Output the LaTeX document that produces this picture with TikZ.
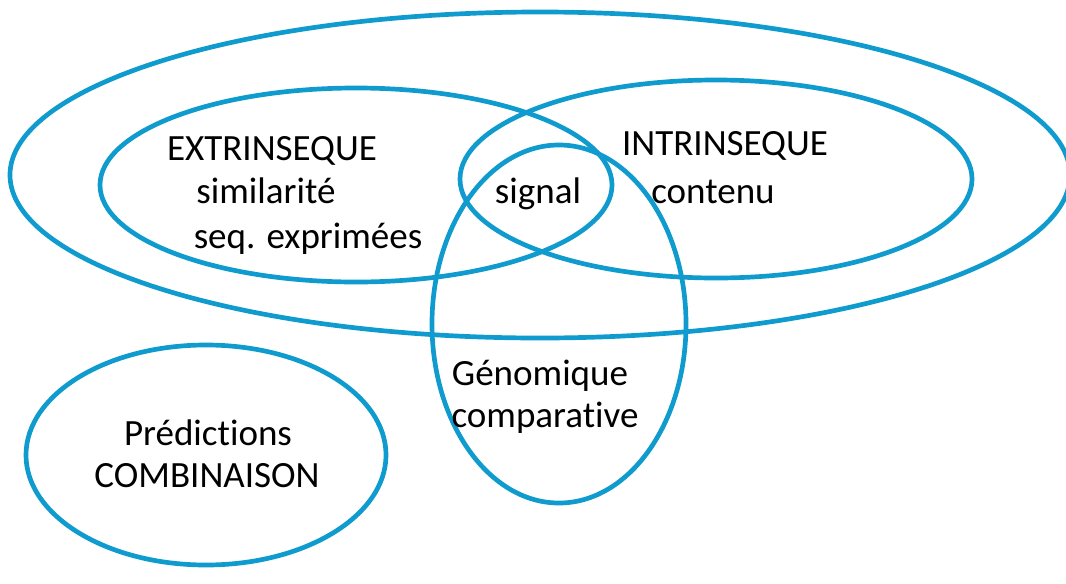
\documentclass[tikz,border=0pt]{standalone}
\usepackage{fontspec}
\setmainfont[Ligatures=NoCommon]{Carlito}
\usepackage{tikz}
\usetikzlibrary{positioning, shapes.geometric}
\definecolor{ringBlue}{HTML}{0F9BCE}

\begin{document}
\begin{tikzpicture}[
    x=0.03cm, y=-0.03cm,
    ring/.style={ellipse, draw=ringBlue, line width=4pt, inner sep=0pt},
    lbl/.style={anchor=base, inner sep=0pt, font=\fontsize{31.6}{38}\selectfont},
]
\useasboundingbox (0,0) rectangle (1066,583);
% ellipses
\node[ring, minimum width=31.8cm, minimum height=9.78cm] (outer) at (540,175) {};
\node[ring, minimum width=15.36cm, minimum height=5.82cm] (extr) at (356,185) {};
\node[ring, minimum width=15.36cm, minimum height=5.94cm] (intr) at (716,179) {};
\node[ring, minimum width=7.62cm, minimum height=10.74cm] (genom) at (559,324) {};
\node[ring, minimum width=10.8cm, minimum height=6.6cm] (predic) at (206,455) {};
% labels
\node[lbl] (extrTitle) at (272,160) {EXTRINSEQUE};
\node[lbl] (simil) at (266,203) {similarité};
\node[lbl] (seqExp) at (308,248) {seq. exprimées};
\node[lbl] (signal) at (538,203) {signal};
\node[lbl] (intrTitle) at (725,155) {INTRINSEQUE};
\node[lbl] (contenu) at (713,203) {contenu};
\node[lbl] (genomTitle) at (540,385) {Génomique};
\node[lbl] (compar) at (545,427) {comparative};
\node[lbl] (predicTitle) at (208,445) {Prédictions};
\node[lbl] (combin) at (207,487) {COMBINAISON};
\end{tikzpicture}
\end{document}
